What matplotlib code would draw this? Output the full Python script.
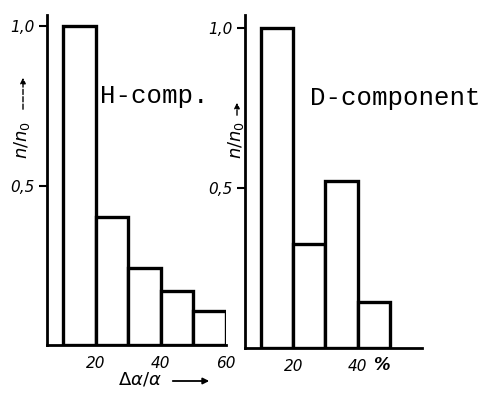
import matplotlib
matplotlib.use("Agg")
import matplotlib.pyplot as plt

# bin left edges (% of Δα/α) and relative counts n/n0
h_bins = [10, 20, 30, 40, 50]
h_vals = [1.0, 0.40, 0.24, 0.17, 0.107]
d_bins = [10, 20, 30, 40]
d_vals = [1.0, 0.325, 0.52, 0.144]
bin_width = 10

fig = plt.figure(figsize=(4.88, 3.96), dpi=100)
ax_h = fig.add_axes([0.0963, 0.1288, 0.3668, 0.8333])
ax_d = fig.add_axes([0.502, 0.1212, 0.3627, 0.841])

tick_font = dict(family="DejaVu Sans", style="italic", size=11)

for ax, bins, vals, ytop in [(ax_h, h_bins, h_vals, 1.035), (ax_d, d_bins, d_vals, 1.04)]:
    ax.bar(bins, vals, width=bin_width, align="edge", facecolor="white",
           edgecolor="black", linewidth=2.4)
    ax.set_xlim(5, 60)
    ax.set_ylim(0, ytop)
    for s in ["top", "right"]:
        ax.spines[s].set_visible(False)
    for s in ["left", "bottom"]:
        ax.spines[s].set_linewidth(2.0)
    ax.set_yticks([0.5, 1.0])
    ax.set_yticklabels(["0,5", "1,0"], fontdict=tick_font)
    ax.tick_params(axis="y", direction="out", length=6, width=1.5, pad=3)
    ax.tick_params(axis="x", length=0, pad=8)
    ax.patch.set_alpha(0)

ax_h.set_xticks([20, 40, 60])
ax_h.set_xticklabels(["20", "40", "60"], fontdict=tick_font)
ax_d.set_xticks([20, 40])
ax_d.set_xticklabels(["20", "40"], fontdict=tick_font)
ax_d.text(47.5, -0.052, "%", ha="center", va="center", fontsize=12,
          style="italic", fontweight="bold", transform=ax_d.transData, clip_on=False)

# panel titles
ax_h.text(21.3, 0.78, "H-comp.", family="Liberation Mono", fontsize=18.5,
          ha="left", va="center")
ax_d.text(25.2, 0.78, "D-component", family="Liberation Mono", fontsize=18.5,
          ha="left", va="center")

# y labels with arrows
fig.text(22 / 488, 1 - 140 / 396, "$n/n_0$", rotation=90, ha="center",
         va="center", fontsize=13, style="italic")
fig.text(236 / 488, 1 - 140 / 396, "$n/n_0$", rotation=90, ha="center",
         va="center", fontsize=13, style="italic")
for xp, y0, y1 in [(23, 112, 75), (237, 118, 100)]:
    fig.add_artist(matplotlib.patches.FancyArrowPatch(
        (xp / 488, 1 - y0 / 396), (xp / 488, 1 - y1 / 396),
        transform=fig.transFigure, arrowstyle="-|>", mutation_scale=8,
        color="black", linewidth=1.0, linestyle="--"))

# x label
fig.text(118 / 488, 1 - 380 / 396, "$\\Delta\\alpha/\\alpha$", ha="left",
         va="center", fontsize=13)
fig.add_artist(matplotlib.patches.FancyArrowPatch(
    (170 / 488, 1 - 381 / 396), (212 / 488, 1 - 381 / 396),
    transform=fig.transFigure, arrowstyle="-|>", mutation_scale=9,
    color="black", linewidth=1.3))

fig.savefig("out.png", dpi=100)
